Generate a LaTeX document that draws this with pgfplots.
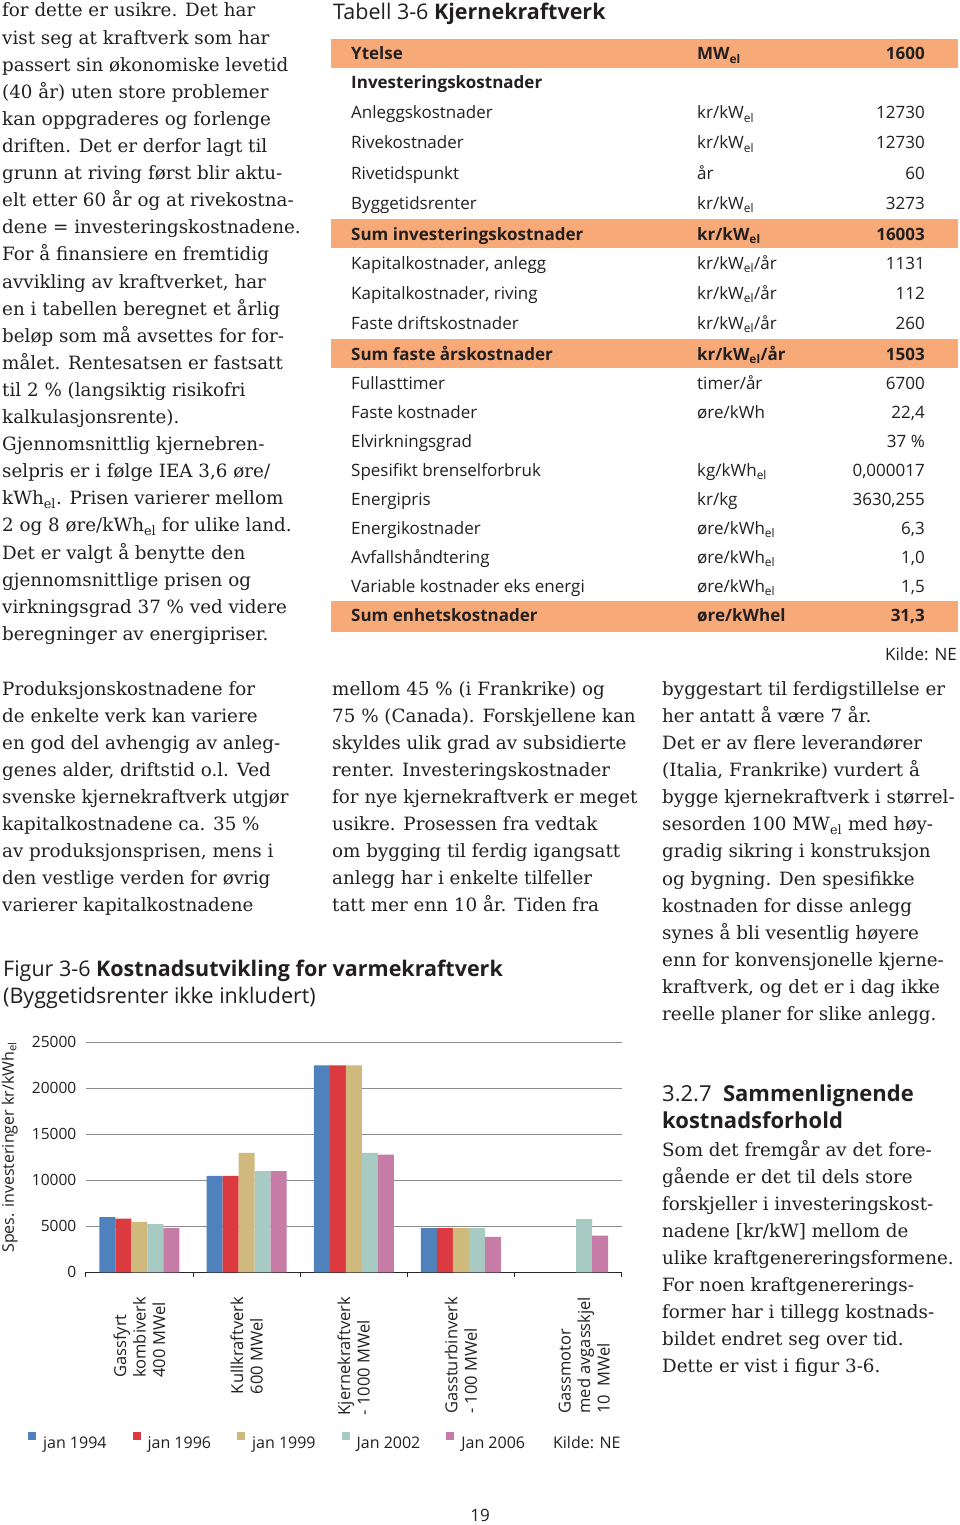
\documentclass[border=0pt]{standalone}
\usepackage{pgfplots}
\pgfplotsset{compat=1.18}
\usepackage{fontspec}
\setmainfont{DejaVu Serif}
\newfontfamily\sansf{Open Sans}
\definecolor{c1}{HTML}{4F81BD}
\definecolor{c2}{HTML}{DB3B40}
\definecolor{c3}{HTML}{D0B97C}
\definecolor{c4}{HTML}{A7CAC2}
\definecolor{c5}{HTML}{C77BA7}
\definecolor{tor}{HTML}{F7A977}
\definecolor{ink}{HTML}{231F20}
\tikzset{
  bt/.style={inner sep=0pt, font=\fontsize{18.3}{27}\selectfont, text=ink},
  tb/.style={inner sep=0pt, font=\sansf\fontsize{17}{17}\selectfont, text=ink},
  hd/.style={inner sep=0pt, font=\sansf\fontsize{21.5}{21.5}\selectfont, text=ink},
}
\newcommand\lines[4]{%
  \foreach \t [count=\i from 0] in {#4} {\node[bt,anchor=base west] at (#1,{-(#2)-(#3)*\i}) {\t};}%
}
\newcommand\trow[4]{%
  \node[tb,anchor=base west] at (351,-#1) {#2};
  \node[tb,anchor=base west] at (697,-#1) {#3};
  \node[tb,anchor=base east] at (925,-#1) {#4};}
\newcommand\el{\textsubscript{el}}
\begin{document}
\begin{tikzpicture}[x=1pt,y=1pt]
\fill[white] (0,0) rectangle (960,-1525);
\path[use as bounding box] (0,0) rectangle (960,-1525);

% left column text
\lines{2}{17}{27.1}{{for dette er usikre. Det har},{vist seg at kraftverk som har},{passert sin økonomiske levetid},{(40 år) uten store problemer},{kan oppgraderes og forlenge},{driften. Det er derfor lagt til},{grunn at riving først blir aktu-},{elt etter 60 år og at rivekostna-},{dene = investeringskostnadene.},{For å finansiere en fremtidig},{avvikling av kraftverket, har},{en i tabellen beregnet et årlig},{beløp som må avsettes for for-},{målet. Rentesatsen er fastsatt},{til 2 \% (langsiktig risikofri},{kalkulasjonsrente).},{Gjennomsnittlig kjernebren-},{selpris er i følge IEA 3,6 øre/},{kWh\el. Prisen varierer mellom},{2 og 8 øre/kWh\el{} for ulike land.},{Det er valgt å benytte den},{gjennomsnittlige prisen og},{virkningsgrad 37 \% ved videre},{beregninger av energipriser.}}

\lines{2}{695}{27.1}{{Produksjonskostnadene for},{de enkelte verk kan variere},{en god del avhengig av anleg-},{genes alder, driftstid o.l. Ved},{svenske kjernekraftverk utgjør},{kapitalkostnadene ca. 35 \%},{av produksjonsprisen, mens i},{den vestlige verden for øvrig},{varierer kapitalkostnadene}}

\lines{332}{695}{27.1}{{mellom 45 \% (i Frankrike) og},{75 \% (Canada). Forskjellene kan},{skyldes ulik grad av subsidierte},{renter. Investeringskostnader},{for nye kjernekraftverk er meget},{usikre. Prosessen fra vedtak},{om bygging til ferdig igangsatt},{anlegg har i enkelte tilfeller},{tatt mer enn 10 år. Tiden fra}}

\lines{662}{695}{27.15}{{byggestart til ferdigstillelse er},{her antatt å være 7 år.},{Det er av flere leverandører},{(Italia, Frankrike) vurdert å},{bygge kjernekraftverk i størrel-},{sesorden 100 MW\el{} med høy-},{gradig sikring i konstruksjon},{og bygning. Den spesifikke},{kostnaden for disse anlegg},{synes å bli vesentlig høyere},{enn for konvensjonelle kjerne-},{kraftverk, og det er i dag ikke},{reelle planer for slike anlegg.}}

\node[hd,anchor=base west,font=\sansf\fontsize{22}{22}\selectfont] at (662,-1101) {3.2.7\ \ \textbf{Sammenlignende}};
\node[hd,anchor=base west,font=\sansf\fontsize{22}{22}\selectfont] at (662,-1128) {\textbf{kostnadsforhold}};
\lines{662}{1156}{27.1}{{Som det fremgår av det fore-},{gående er det til dels store},{forskjeller i investeringskost-},{nadene [kr/kW] mellom de},{ulike kraftgenereringsformene.},{For noen kraftgenererings-},{former har i tillegg kostnads-},{bildet endret seg over tid.},{Dette er vist i figur 3-6.}}

% table
\node[hd,anchor=base west] at (333,-20) {Tabell 3-6 \textbf{Kjernekraftverk}};
\fill[tor] (331,-39) rectangle (958,-68);
\fill[tor] (331,-219) rectangle (958,-248);
\fill[tor] (331,-339) rectangle (958,-368);
\fill[tor] (331,-601) rectangle (958,-632);
\trow{60}{\bfseries Ytelse}{\bfseries MW\el}{\bfseries 1600}
\trow{89}{\bfseries Investeringskostnader}{}{}
\trow{119}{Anleggskostnader}{kr/kW\el}{12730}
\trow{149}{Rivekostnader}{kr/kW\el}{12730}
\trow{179}{Rivetidspunkt}{år}{60}
\trow{209}{Byggetidsrenter}{kr/kW\el}{3273}
\trow{240}{\bfseries Sum investeringskostnader}{\bfseries kr/kW\el}{\bfseries 16003}
\trow{269}{Kapitalkostnader, anlegg}{kr/kW\el/år}{1131}
\trow{299}{Kapitalkostnader, riving}{kr/kW\el/år}{112}
\trow{329}{Faste driftskostnader}{kr/kW\el/år}{260}
\trow{360}{\bfseries Sum faste årskostnader}{\bfseries kr/kW\el/år}{\bfseries 1503}
\trow{389}{Fullasttimer}{timer/år}{6700}
\trow{418}{Faste kostnader}{øre/kWh}{22,4}
\trow{447}{Elvirkningsgrad}{}{37 \%}
\trow{476}{Spesifikt brenselforbruk}{kg/kWh\el}{0,000017}
\trow{505}{Energipris}{kr/kg}{3630,255}
\trow{534}{Energikostnader}{øre/kWh\el}{6,3}
\trow{563}{Avfallshåndtering}{øre/kWh\el}{1,0}
\trow{592}{Variable kostnader eks energi}{øre/kWh\el}{1,5}
\trow{621}{\bfseries Sum enhetskostnader}{\bfseries øre/kWhel}{\bfseries 31,3}
\node[tb,anchor=base east] at (957,-660) {Kilde: NE};

% figure caption
\node[hd,anchor=base west] at (3,-976) {Figur 3-6 \textbf{Kostnadsutvikling for varmekraftverk}};
\node[hd,anchor=base west] at (3,-1003) {(Byggetidsrenter ikke inkludert)};

\begin{axis}[
  at={(80,-1383)}, anchor=south west,
  scale only axis, width=536pt, height=230pt,
  xmin=-0.5, xmax=4.5, ymin=0, ymax=25000,
  ybar=0pt, bar width=16pt,
  axis x line*=bottom, axis y line*=left,
  y axis line style={draw=none},
  x axis line style={black!85, line width=0.8pt},
  ytick={0,5000,...,25000},
  ymajorgrids, grid style={black!45, line width=0.8pt},
  ytick style={draw=none},
  xtick={0,1,2,3,4.15},
  major tick length=0pt,
  minor xtick={-0.5,0.5,1.5,2.5,3.5,4.5},
  xtick align=outside,
  minor tick length=5pt,
  minor x tick style={black!85, line width=0.8pt},
  xticklabels={{Gassfyrt\\kombiverk\\400 MWel},{Kullkraftverk\\600 MWel},{Kjernekraftverk\\- 1000 MWel},{Gassturbinverk\\- 100 MWel},{Gassmotor\\med avgasskjel\\10\ \ MWel}},
  xticklabel style={yshift=-21pt, rotate=90, anchor=east, align=left, font=\sansf\fontsize{16.5}{19.5}\selectfont, text=ink},
  yticklabel style={font=\sansf\fontsize{15.5}{15.5}\selectfont, text=ink, xshift=-6pt},
  /pgf/number format/1000 sep={}, /pgf/number format/assume math mode=true,
  scaled y ticks=false,
  ylabel={Spes. investeringer kr/kWh\textsubscript{el}},
  ylabel style={at={(axis description cs:-0.142,0.543)}, anchor=center, font=\sansf\fontsize{16}{16}\selectfont, text=ink},
  legend style={at={(axis description cs:-0.108,-0.739)}, anchor=west, draw=none, fill=none, inner sep=0pt,
    font=\sansf\fontsize{16}{16}\selectfont, text=ink,
    /tikz/every even column/.append style={column sep=24pt}},
  legend columns=6,
  legend image code/.code={\fill[#1] (0pt,3pt) rectangle (8pt,11pt); \path (0pt,0pt) (13pt,0pt);},
]
\addplot[fill=c1, draw=none] coordinates {(0,6000) (1,10500) (2,22500) (3,4800)};
\addplot[fill=c2, draw=none] coordinates {(0,5850) (1,10500) (2,22500) (3,4800)};
\addplot[fill=c3, draw=none] coordinates {(0,5500) (1,13000) (2,22500) (3,4800)};
\addplot[fill=c4, draw=none] coordinates {(0,5250) (1,11000) (2,13000) (3,4800) (4,5800)};
\addplot[fill=c5, draw=none] coordinates {(0,4800) (1,11000) (2,12800) (3,3850) (4,4000)};
\addlegendentry{jan 1994}
\addlegendentry{jan 1996}
\addlegendentry{jan 1999}
\addlegendentry{Jan 2002}
\addlegendentry{Jan 2006}
\addlegendimage{empty legend}
\addlegendentry{Kilde: NE}
\end{axis}

\node[tb,anchor=base] at (480,-1521) {19};
\end{tikzpicture}
\end{document}
